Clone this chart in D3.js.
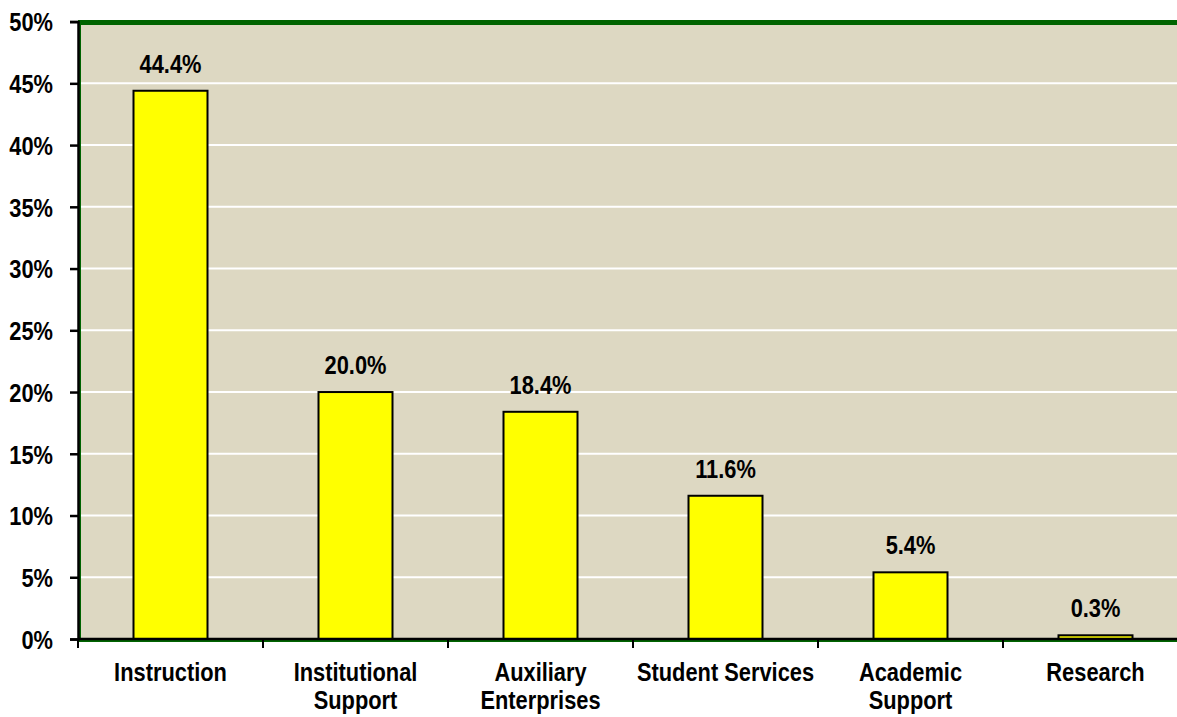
<!DOCTYPE html>
<html>
<head>
<meta charset="utf-8">
<script src="https://cdn.jsdelivr.net/npm/d3@7"></script>
<style>
  body { margin: 0; background: #fff; }
  svg { display: block; }
  text { font-family: Arial, "Liberation Sans", sans-serif; font-weight: bold; fill: #000; }
</style>
</head>
<body>
<svg id="chart" width="1177" height="717"></svg>
<script>
// data
var categories = ["Instruction", "Institutional Support", "Auxiliary Enterprises", "Student Services", "Academic Support", "Research"];
var labelLines = [["Instruction"], ["Institutional", "Support"], ["Auxiliary", "Enterprises"], ["Student Services"], ["Academic", "Support"], ["Research"]];
var values = [44.4, 20.0, 18.4, 11.6, 5.4, 0.3];
var yTicks = [0, 5, 10, 15, 20, 25, 30, 35, 40, 45, 50];

var svg = d3.select("#chart");
var sx = 0.84; // horizontal squeeze for the condensed bold look
var fs = 26;

var plotLeft = 78, plotTop = 21.6, plotBottom = 639, bandW = 185;
var plotRight = plotLeft + bandW * categories.length;

var x = d3.scaleBand().domain(categories).range([plotLeft, plotRight]).paddingInner(0).paddingOuter(0);
var y = d3.scaleLinear().domain([0, 50]).range([plotBottom, plotTop]);

// plot area
svg.append("rect")
    .attr("x", plotLeft).attr("y", plotTop)
    .attr("width", plotRight - plotLeft).attr("height", plotBottom - plotTop)
    .attr("fill", "#DDD8C2");

// gridlines
svg.append("g").selectAll("line")
    .data(yTicks.filter(function(d) { return d > 0 && d < 50; }))
  .enter().append("line")
    .attr("x1", plotLeft).attr("x2", plotRight)
    .attr("y1", function(d) { return y(d); }).attr("y2", function(d) { return y(d); })
    .attr("stroke", "#fff").attr("stroke-width", 2);

// green border
svg.append("line").attr("x1", plotLeft).attr("x2", plotRight).attr("y1", plotTop + 1).attr("y2", plotTop + 1)
    .attr("stroke", "#006400").attr("stroke-width", 5);
svg.append("line").attr("x1", plotLeft + 2).attr("x2", plotLeft + 2).attr("y1", plotTop).attr("y2", plotBottom)
    .attr("stroke", "#006400").attr("stroke-width", 2);
svg.append("line").attr("x1", plotLeft).attr("x2", plotRight).attr("y1", plotBottom + 2).attr("y2", plotBottom + 2)
    .attr("stroke", "#006400").attr("stroke-width", 2);

// bars
var barW = 74;
svg.append("g").selectAll("rect")
    .data(values)
  .enter().append("rect")
    .attr("x", function(d, i) { return x(categories[i]) + bandW / 2 - barW / 2; })
    .attr("y", function(d) { return y(d); })
    .attr("width", barW)
    .attr("height", function(d) { return plotBottom - y(d); })
    .attr("fill", "#FFFF00")
    .attr("stroke", "#000")
    .attr("stroke-width", 2);

// value labels
svg.append("g").selectAll("text")
    .data(values)
  .enter().append("text")
    .attr("transform", function(d, i) {
      return "translate(" + (x(categories[i]) + bandW / 2) + "," + (y(d) - 18) + ") scale(" + sx + ",1)";
    })
    .attr("text-anchor", "middle")
    .style("font-size", fs + "px")
    .text(function(d) { return d.toFixed(1) + "%"; });

// y axis
var yAxis = d3.axisLeft(y).tickValues(yTicks).tickSize(8).tickPadding(0)
    .tickFormat(function(d) { return d + "%"; });
var gy = svg.append("g").attr("transform", "translate(" + plotLeft + ",0)").call(yAxis);
gy.attr("font-family", null).attr("font-size", null);
gy.select(".domain").attr("stroke", "#000").attr("stroke-width", 2.5);
gy.selectAll(".tick line").attr("stroke", "#000").attr("stroke-width", 2.5);
gy.selectAll(".tick text")
    .attr("x", -25 / sx).attr("dy", "0.36em")
    .attr("transform", "scale(" + sx + ",1)")
    .style("font-size", fs + "px");

// x axis
var gx = svg.append("g").attr("transform", "translate(0," + plotBottom + ")");
gx.append("line").attr("x1", plotLeft).attr("x2", plotRight).attr("y1", 0).attr("y2", 0)
    .attr("stroke", "#000").attr("stroke-width", 2.5);
gx.selectAll("line.tk")
    .data(d3.range(categories.length + 1))
  .enter().append("line")
    .attr("class", "tk")
    .attr("x1", function(i) { return plotLeft + i * bandW; })
    .attr("x2", function(i) { return plotLeft + i * bandW; })
    .attr("y1", 0).attr("y2", 9)
    .attr("stroke", "#000").attr("stroke-width", 2);

var cat = gx.selectAll("text.cat")
    .data(labelLines)
  .enter().append("text")
    .attr("class", "cat")
    .attr("text-anchor", "middle")
    .attr("transform", function(d, i) {
      return "translate(" + (x(categories[i]) + bandW / 2) + ",42) scale(" + sx + ",1)";
    })
    .style("font-size", fs + "px");
cat.selectAll("tspan")
    .data(function(d) { return d; })
  .enter().append("tspan")
    .attr("x", 0)
    .attr("y", function(d, j) { return j * 28; })
    .text(function(d) { return d; });
</script>
</body>
</html>
